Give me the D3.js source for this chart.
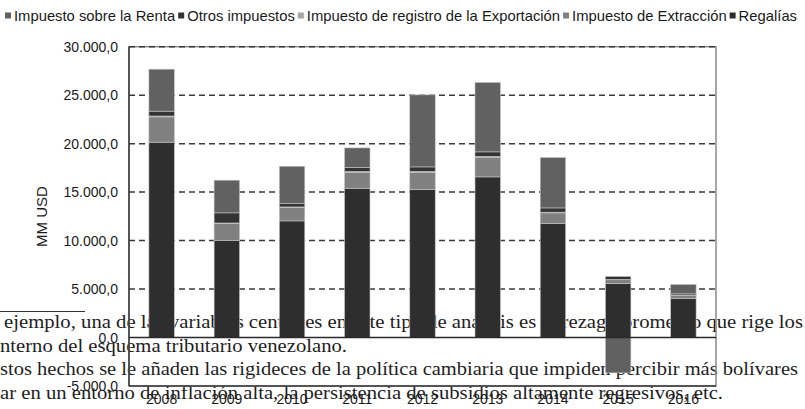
<!DOCTYPE html>
<html>
<head>
<meta charset="utf-8">
<script src="https://cdn.jsdelivr.net/npm/d3@7"></script>
<style>
  body { margin: 0; background: #fff; }
  svg { display: block; }
</style>
</head>
<body>
<svg id="chart" width="805" height="409"></svg>
<script>
// datos (MM USD)
const years = ['2008', '2009', '2010', '2011', '2012', '2013', '2014', '2015', '2016'];
const regalias = [20150, 10000, 12030, 15400, 15270, 16570, 11760, 5550, 4020];
const extraccion = [2610, 1760, 1380, 1650, 1780, 2030, 1100, 410, 330];
const registroExport = [90, 55, 60, 85, 90, 90, 70, 35, 25];
const otros = [500, 1045, 350, 405, 460, 460, 440, 305, 130];
const renta = [4330, 3370, 3850, 2020, 7430, 7160, 5200, -3650, 965];
const yTicks = [-5000, 0, 5000, 10000, 15000, 20000, 25000, 30000];

// legend order vs stack order (bottom -> top)
const legendNames = ['Impuesto sobre la Renta', 'Otros impuestos', 'Impuesto de registro de la Exportación', 'Impuesto de Extracción', 'Regalías'];
const stackKeys = ['Regalías', 'Impuesto de Extracción', 'Impuesto de registro de la Exportación', 'Otros impuestos', 'Impuesto sobre la Renta'];

// texto del documento que queda detras del grafico
const docLines = [
  'ejemplo, una de las variables centrales en este tipo de análisis es el rezago promedio que rige los',
  'nterno del esquema tributario venezolano.',
  'stos hechos se le añaden las rigideces de la política cambiaria que impiden percibir más bolívares',
  'ar en un entorno de inflación alta, la persistencia de subsidios altamente regresivos, etc.'
];

const colors = {
  'Regalías': '#2e2e2e',
  'Impuesto de Extracción': '#808080',
  'Impuesto de registro de la Exportación': '#a6a6a6',
  'Otros impuestos': '#333333',
  'Impuesto sobre la Renta': '#616161'
};

const rows = years.map((y, i) => ({
  year: y,
  'Regalías': regalias[i],
  'Impuesto de Extracción': extraccion[i],
  'Impuesto de registro de la Exportación': registroExport[i],
  'Otros impuestos': otros[i],
  'Impuesto sobre la Renta': renta[i]
}));

const svg = d3.select('#chart');

// --- texto de fondo ---
const docX = [4, 0, 0, 0];
const docW = [799, 347, 798, 723];
const docY = [328, 352, 375, 399];

svg.append('line')
  .attr('x1', 0).attr('x2', 85)
  .attr('y1', 311.5).attr('y2', 311.5)
  .attr('stroke', '#333').attr('stroke-width', 1);

svg.selectAll('.doc')
  .data(docLines)
  .join('text')
  .attr('class', 'doc')
  .attr('x', (d, i) => docX[i])
  .attr('y', (d, i) => docY[i])
  .attr('textLength', (d, i) => docW[i])
  .attr('lengthAdjust', 'spacingAndGlyphs')
  .attr('font-family', 'Liberation Serif, serif')
  .attr('font-size', 19)
  .attr('fill', '#1e1e1e')
  .text(d => d);

// --- grafico ---
const plotL = 129, plotR = 716, plotT = 46.7, plotB = 386;

const x = d3.scaleBand()
  .domain(years)
  .range([plotL, plotR])
  .paddingInner(0.61)
  .paddingOuter(0.305);

const y = d3.scaleLinear()
  .domain([-5000, 30000])
  .range([plotB, plotT]);

const fmt = d3.formatLocale({
  decimal: ',', thousands: '.', grouping: [3], currency: ['', ''], minus: '-'
}).format(',.1f');

const chart = svg.append('g').attr('font-family', 'Liberation Sans, Arial, sans-serif');

// borde del area de trazado
chart.append('rect')
  .attr('x', plotL).attr('y', plotT)
  .attr('width', plotR - plotL).attr('height', plotB - plotT)
  .attr('fill', 'none')
  .attr('stroke', '#8a8a8a')
  .attr('stroke-width', 1.5);

// lineas de cuadricula
chart.selectAll('.grid')
  .data(yTicks.filter(t => t > 0))
  .join('line')
  .attr('class', 'grid')
  .attr('x1', plotL).attr('x2', plotR)
  .attr('y1', d => y(d)).attr('y2', d => y(d))
  .attr('stroke', '#3a3a3a')
  .attr('stroke-width', 1.5)
  .attr('stroke-dasharray', '6,4');

const stack = d3.stack()
  .keys(stackKeys)
  .offset(d3.stackOffsetDiverging);

const series = stack(rows);

chart.selectAll('.serie')
  .data(series)
  .join('g')
  .attr('class', 'serie')
  .attr('fill', d => colors[d.key])
  .selectAll('rect')
  .data(d => d)
  .join('rect')
  .attr('x', d => x(d.data.year))
  .attr('width', x.bandwidth())
  .attr('y', d => y(Math.max(d[0], d[1])))
  .attr('height', d => Math.abs(y(d[0]) - y(d[1])))
  .attr('stroke', '#c4c4c4')
  .attr('stroke-width', 0.6);

// eje cero
chart.append('line')
  .attr('x1', plotL).attr('x2', plotR)
  .attr('y1', y(0)).attr('y2', y(0))
  .attr('stroke', '#2a2a2a')
  .attr('stroke-width', 1.5);

// eje izquierdo y borde inferior
chart.append('line')
  .attr('x1', plotL).attr('x2', plotL)
  .attr('y1', plotT).attr('y2', plotB)
  .attr('stroke', '#3a3a3a')
  .attr('stroke-width', 1.5);

chart.append('line')
  .attr('x1', plotL).attr('x2', plotR)
  .attr('y1', plotB).attr('y2', plotB)
  .attr('stroke', '#3a3a3a')
  .attr('stroke-width', 1.5);

const yAxis = chart.append('g')
  .attr('transform', `translate(${plotL},0)`)
  .call(d3.axisLeft(y).tickValues(yTicks).tickFormat(fmt).tickSize(0).tickPadding(11));
yAxis.select('.domain').remove();
yAxis.selectAll('text')
  .attr('font-size', 14)
  .attr('font-family', 'Liberation Sans, Arial, sans-serif')
  .attr('fill', '#1a1a1a');

const xAxis = chart.append('g')
  .attr('transform', `translate(0,${plotB})`)
  .call(d3.axisBottom(x).tickSize(0).tickPadding(8));
xAxis.select('.domain').remove();
xAxis.selectAll('text')
  .attr('font-size', 14)
  .attr('font-family', 'Liberation Sans, Arial, sans-serif')
  .attr('fill', '#1a1a1a');

// titulo eje y
chart.append('text')
  .attr('transform', 'translate(47,216.5) rotate(-90)')
  .attr('text-anchor', 'middle')
  .attr('font-size', 15)
  .attr('fill', '#1a1a1a')
  .text('MM USD');

// leyenda
const legend = chart.append('g').attr('transform', 'translate(5,15.5)');
const items = legend.selectAll('g')
  .data(legendNames)
  .join('g');

items.append('rect')
  .attr('width', 6).attr('height', 6)
  .attr('y', -3)
  .attr('fill', d => colors[d]);

items.append('text')
  .attr('x', 9)
  .attr('dy', '0.35em')
  .attr('font-size', 15)
  .attr('fill', '#1a1a1a')
  .text(d => d);

// encajar la leyenda en el ancho (5 -> 800)
const widths = [];
items.select('text').each(function () { widths.push(this.getComputedTextLength()); });
const gaps = legendNames.length * 12;
const k = (795 - gaps) / d3.sum(widths);
let pos = 0;
items.each(function (d, i) {
  const w = widths[i] * k;
  d3.select(this).attr('transform', `translate(${pos},0)`)
    .select('text')
    .attr('textLength', w)
    .attr('lengthAdjust', 'spacingAndGlyphs');
  pos += 9 + w + 3;
});
</script>
</body>
</html>
